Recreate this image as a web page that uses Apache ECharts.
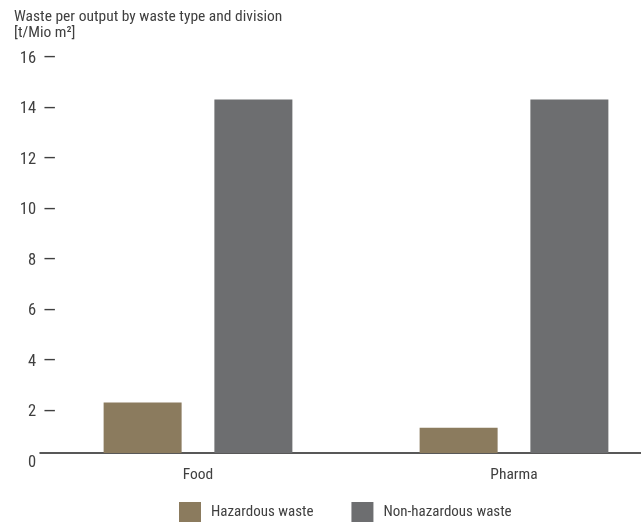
<!DOCTYPE html>
<html>
<head>
<meta charset="utf-8">
<script src="https://cdn.jsdelivr.net/npm/echarts@6/dist/echarts.min.js"></script>
<style>
html,body{margin:0;padding:0;background:#fff;}
#chart{width:641px;height:524px;}
</style>
</head>
<body>
<div id="chart"></div>
<script>
const categories = ['Food', 'Pharma'];
const hazardous = [2.0, 1.0];
const nonHazardous = [14.0, 14.0];
const seriesNames = ['Hazardous waste', 'Non-hazardous waste'];
const yTicks = [0, 2, 4, 6, 8, 10, 12, 14, 16];

const FONT = "'Liberation Sans Narrow', 'Roboto Condensed', 'Liberation Sans', sans-serif";
const TXT = '#404040';

const chart = echarts.init(document.getElementById('chart'), null, {renderer: 'canvas'});
chart.setOption({
  animation: false,
  backgroundColor: '#fff',
  title: {
    text: 'Waste per output by waste type and division\n[t/Mio m²]',
    left: 14, top: 9, padding: 0,
    textStyle: {fontFamily: FONT, fontSize: 15.5, fontWeight: 'normal', color: TXT, lineHeight: 16}
  },
  legend: {
    data: seriesNames,
    left: 179, top: 502, padding: 0,
    icon: 'rect', itemWidth: 22, itemHeight: 20, itemGap: 38,
    textStyle: {fontFamily: FONT, fontSize: 15, color: TXT, padding: [0, 0, 0, 5]}
  },
  grid: {left: 40, width: 632, top: 49, bottom: 71, containLabel: false, outerBoundsMode: 'none'},
  xAxis: {
    type: 'category',
    data: categories,
    axisLine: {show: true, lineStyle: {color: '#222', width: 1.5}},
    axisTick: {show: false},
    axisLabel: {fontFamily: FONT, fontSize: 15.5, color: TXT, margin: 14}
  },
  yAxis: {
    type: 'value',
    min: yTicks[0], max: yTicks[yTicks.length - 1], interval: 2,
    offset: -16,
    axisLine: {show: false},
    axisTick: {show: false},
    splitLine: {show: false},
    axisLabel: {
      margin: 0,
      align: 'right',
      verticalAlign: 'middle',
      padding: [19, 0, 0, 0],
      formatter: function (v) {
        return v === 0 ? '{n|0}{z|—}' : '{n|' + v + '}{d|—}';
      },
      rich: {
        n: {fontFamily: FONT, fontSize: 16.5, color: TXT},
        d: {fontFamily: FONT, fontSize: 19, color: TXT, padding: [0, 0, 0, 7]},
        z: {fontFamily: FONT, fontSize: 19, color: 'rgba(0,0,0,0)', padding: [0, 0, 0, 7]}
      }
    }
  },
  series: [
    {name: seriesNames[0], type: 'bar', data: hazardous, barWidth: 78, barGap: '42%',
     itemStyle: {color: '#8B7B5E'}},
    {name: seriesNames[1], type: 'bar', data: nonHazardous, barWidth: 78, barGap: '42%',
     itemStyle: {color: '#6D6E70'}}
  ]
});
</script>
</body>
</html>
